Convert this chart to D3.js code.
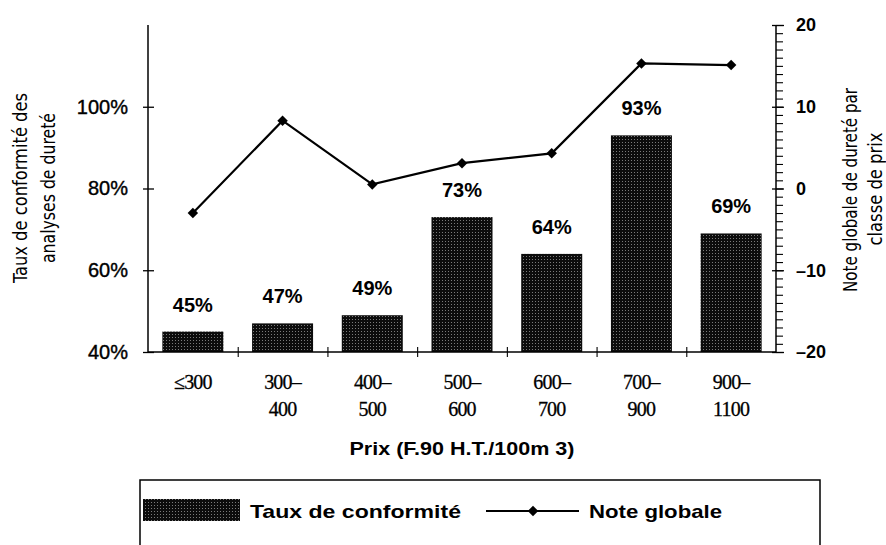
<!DOCTYPE html>
<html>
<head>
<meta charset="utf-8">
<script src="https://cdn.jsdelivr.net/npm/d3@7"></script>
<style>
  html, body { margin: 0; padding: 0; background: #fff; }
  svg { display: block; }
</style>
</head>
<body>
<svg id="chart" width="886" height="545"></svg>
<script>
// Price classes (F.90 H.T./100 m3)
const categories = ["≤300", "300–400", "400–500", "500–600", "600–700", "700–900", "900–1100"];
// Hardness conformity rate per price class (%)
const conformite = [45, 47, 49, 73, 64, 93, 69];
// Overall hardness score per price class
const noteGlobale = [-3.0, 8.3, 0.5, 3.1, 4.3, 15.3, 15.1];
// Axis ticks
const leftTicks = [40, 60, 80, 100];
const rightTicks = [-20, -10, 0, 10, 20];

const svg = d3.select("#chart");
const sans = "'Liberation Sans', Arial, Helvetica, sans-serif";
const narrow = "'Liberation Sans Narrow', 'DejaVu Sans Condensed', 'Liberation Sans', sans-serif";
const serif = "'Liberation Serif', 'Times New Roman', serif";

const plotL = 148, plotR = 776, plotT = 25, plotB = 352;

// Grainy fill for the bars
const defs = svg.append("defs");
const pat = defs.append("pattern")
  .attr("id", "grain").attr("patternUnits", "userSpaceOnUse")
  .attr("width", 3).attr("height", 3);
pat.append("rect").attr("width", 3).attr("height", 3).attr("fill", "#0c0c0c");
pat.append("rect").attr("x", 1).attr("y", 1).attr("width", 1).attr("height", 1).attr("fill", "#7a7a7a");

const x = d3.scaleBand().domain(categories).range([plotL, plotR])
  .paddingInner(0.32).paddingOuter(0.16);
const xBound = d3.scaleLinear().domain([0, categories.length]).range([plotL, plotR]);
const yL = d3.scaleLinear().domain([40, 120]).range([plotB, plotT]);
const yR = d3.scaleLinear().domain([-20, 20]).range([plotB, plotT]);

// Bars
svg.append("g").selectAll("rect").data(conformite).join("rect")
  .attr("x", (d, i) => x(categories[i]))
  .attr("y", d => yL(d))
  .attr("width", x.bandwidth())
  .attr("height", d => yL(40) - yL(d))
  .attr("fill", "url(#grain)");

// Bar value labels
svg.append("g").selectAll("text").data(conformite).join("text")
  .attr("x", (d, i) => x(categories[i]) + x.bandwidth() / 2)
  .attr("y", d => yL(d) - 20)
  .attr("text-anchor", "middle")
  .attr("font-family", sans).attr("font-weight", "bold").attr("font-size", 20)
  .text(d => d + "%");

// Left axis
const gL = svg.append("g").attr("transform", `translate(${plotL},0)`)
  .call(d3.axisLeft(yL).tickValues(leftTicks).tickFormat(d => d + "%").tickSize(5).tickPadding(15));
gL.select(".domain").attr("d", `M0,${plotB}V${plotT}`).attr("stroke-width", 1.5);
gL.selectAll(".tick line").attr("x1", 6).attr("x2", -5).attr("stroke-width", 1.3);
gL.selectAll(".tick text").attr("font-family", sans).attr("font-size", 20).attr("fill", "#000")
  .attr("stroke", "#000").attr("stroke-width", 0.4);

// Right axis: minor ticks every unit, crossing major ticks
const gR = svg.append("g").attr("transform", `translate(${plotR},0)`);
gR.call(d3.axisRight(yR).ticks(40).tickFormat("").tickSize(7));
gR.select(".domain").attr("d", `M0,${plotT}V${plotB}`).attr("stroke-width", 1.5);
gR.selectAll(".tick line").attr("stroke-width", 1.1);
const gR2 = svg.append("g").attr("transform", `translate(${plotR},0)`)
  .call(d3.axisRight(yR).tickValues(rightTicks).tickFormat(d => d < 0 ? "–" + Math.abs(d) : d).tickSize(8).tickPadding(12));
gR2.select(".domain").remove();
gR2.selectAll(".tick line").attr("x1", -4).attr("stroke-width", 1.3);
gR2.selectAll(".tick text").attr("font-family", sans).attr("font-weight", "bold")
  .attr("font-size", 18).attr("fill", "#000");

// Bottom axis with ticks at class boundaries
const gB = svg.append("g").attr("transform", `translate(0,${plotB})`)
  .call(d3.axisBottom(xBound).tickValues(d3.range(1, categories.length)).tickFormat("").tickSize(5));
gB.select(".domain").attr("d", `M${plotL},0H${plotR}`).attr("stroke-width", 1.5);
gB.selectAll(".tick line").attr("y1", -5).attr("y2", 5).attr("stroke-width", 1.1);

// Category labels (two lines)
const catG = svg.append("g").attr("font-family", serif).attr("font-size", 20)
  .attr("text-anchor", "middle").attr("letter-spacing", -0.8)
  .attr("stroke", "#000").attr("stroke-width", 0.3);
categories.forEach(c => {
  const parts = c.split("–");
  const cx = x(c) + x.bandwidth() / 2;
  catG.append("text").attr("x", cx).attr("y", 389).text(parts.length > 1 ? parts[0] + "–" : parts[0]);
  if (parts.length > 1) catG.append("text").attr("x", cx).attr("y", 416).text(parts[1]);
});

// X axis title
svg.append("text").attr("x", (plotL + plotR) / 2).attr("y", 455)
  .attr("text-anchor", "middle").attr("font-family", sans).attr("font-weight", "bold")
  .attr("font-size", 19).attr("textLength", 225).attr("lengthAdjust", "spacingAndGlyphs")
  .text("Prix (F.90 H.T./100m 3)");

// Line series with diamond markers
const line = d3.line().x((d, i) => x(categories[i]) + x.bandwidth() / 2).y(d => yR(d));
svg.append("path").datum(noteGlobale).attr("d", line)
  .attr("fill", "none").attr("stroke", "#000").attr("stroke-width", 2.2);
const diamond = d3.symbol().type(d3.symbolDiamond2).size(70);
svg.append("g").selectAll("path").data(noteGlobale).join("path")
  .attr("d", diamond)
  .attr("transform", (d, i) => `translate(${x(categories[i]) + x.bandwidth() / 2},${yR(d)})`)
  .attr("fill", "#000");

// Axis titles (rotated, condensed)
function vTitle(cx, cy, txt, len) {
  svg.append("text").attr("transform", `translate(${cx},${cy}) rotate(-90)`)
    .attr("text-anchor", "middle").attr("font-family", narrow).attr("font-size", 20)
    .attr("textLength", len).attr("lengthAdjust", "spacingAndGlyphs")
    .text(txt);
}
vTitle(27, 188, "Taux de conformité des", 190);
vTitle(55, 188, "analyses de dureté", 150);
vTitle(857, 190, "Note globale de dureté par", 204);
vTitle(882, 189, "classe de prix", 113);

// Legend
const lg = svg.append("g");
lg.append("path").attr("d", "M140,560V480H820V560")
  .attr("fill", "none").attr("stroke", "#000").attr("stroke-width", 1.5);
lg.append("rect").attr("x", 143).attr("y", 499).attr("width", 97).attr("height", 22).attr("fill", "url(#grain)");
lg.append("text").attr("x", 250).attr("y", 518).attr("font-family", sans).attr("font-weight", "bold")
  .attr("font-size", 19).attr("textLength", 211).attr("lengthAdjust", "spacingAndGlyphs").text("Taux de conformité");
lg.append("line").attr("x1", 486).attr("x2", 579).attr("y1", 511).attr("y2", 511)
  .attr("stroke", "#000").attr("stroke-width", 2.2);
lg.append("path").attr("d", diamond).attr("transform", "translate(533,511)").attr("fill", "#000");
lg.append("text").attr("x", 589).attr("y", 518).attr("font-family", sans).attr("font-weight", "bold")
  .attr("font-size", 19).attr("textLength", 133).attr("lengthAdjust", "spacingAndGlyphs").text("Note globale");
</script>
</body>
</html>
